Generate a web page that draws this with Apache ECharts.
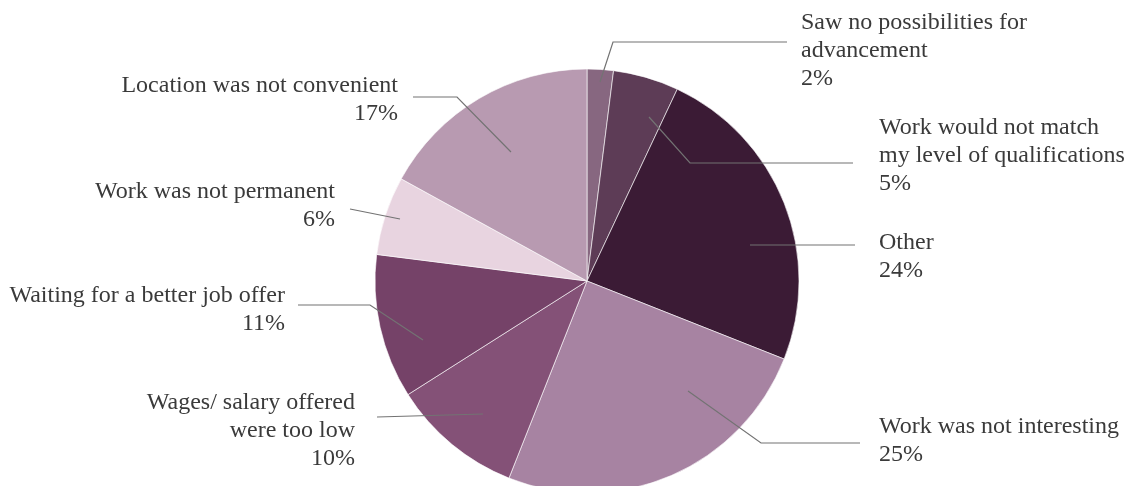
<!DOCTYPE html>
<html>
<head>
<meta charset="utf-8">
<script src="https://cdn.jsdelivr.net/npm/echarts@6/dist/echarts.min.js"></script>
<style>
html,body{margin:0;padding:0;background:#fff;}
#chart{width:1135px;height:486px;}
</style>
</head>
<body>
<div id="chart"></div>
<script>
// ---- data ----
const categories = [
  'Saw no possibilities for\nadvancement',
  'Work would not match\nmy level of qualifications',
  'Other',
  'Work was not interesting',
  'Wages/ salary offered\nwere too low',
  'Waiting for a better job offer',
  'Work was not permanent',
  'Location was not convenient'
];
const values = [2, 5, 24, 25, 10, 11, 6, 17];

// ---- style ----
const colors = ['#876780', '#5d3c56', '#3b1b35', '#a783a2', '#845177', '#754268', '#e8d4e0', '#b89ab1'];

// label placement (text block anchor + leader line), layout only
const labelSpots = [
  { x: 801, y: 9,   align: 'left',  line: [[600, 82], [613, 42], [787, 42]] },
  { x: 879, y: 114, align: 'left',  line: [[649, 117], [690, 163], [853, 163]] },
  { x: 879, y: 229, align: 'left',  line: [[750, 245], [800, 245], [855, 245]] },
  { x: 879, y: 413, align: 'left',  line: [[688, 391], [761, 443], [860, 443]] },
  { x: 355, y: 389, align: 'right', line: [[483, 414], [430, 415.5], [377, 417]] },
  { x: 285, y: 282, align: 'right', line: [[423, 340], [370, 305], [298, 305]] },
  { x: 335, y: 178, align: 'right', line: [[400, 219], [375, 214], [350, 209]] },
  { x: 398, y: 72,  align: 'right', line: [[511, 152], [457, 97], [413, 97]] }
];

const pieData = categories.map((c, i) => ({ name: c, value: values[i], itemStyle: { color: colors[i] } }));

const chart = echarts.init(document.getElementById('chart'), null, { renderer: 'canvas' });
chart.setOption({
  animation: false,
  backgroundColor: '#ffffff',
  series: [{
    // slices
    type: 'pie',
    z: 2,
    center: [587, 281],
    radius: 212,
    startAngle: 90,
    clockwise: true,
    data: pieData,
    itemStyle: { borderColor: '#ffffff', borderWidth: 0.6 },
    label: { show: false },
    labelLine: { show: false },
    emphasis: { disabled: true },
    silent: true
  }, {
    // labels and leader lines drawn above the slices
    type: 'pie',
    z: 5,
    center: [587, 281],
    radius: 212,
    startAngle: 90,
    clockwise: true,
    avoidLabelOverlap: false,
    data: categories.map((c, i) => ({ name: c, value: values[i] })),
    itemStyle: { color: 'rgba(0,0,0,0)', borderWidth: 0 },
    label: {
      show: true,
      position: 'outside',
      formatter: '{b}\n{d}%',
      fontFamily: 'Liberation Serif',
      fontSize: 24,
      lineHeight: 28,
      color: '#3a3a3a'
    },
    labelLine: {
      show: true,
      lineStyle: { color: '#737373', width: 1.2 }
    },
    labelLayout: function (params) {
      const s = labelSpots[params.dataIndex];
      return {
        x: s.x,
        y: s.y,
        align: s.align,
        verticalAlign: 'top',
        labelLinePoints: s.line
      };
    },
    emphasis: { disabled: true },
    silent: true
  }]
});
</script>
</body>
</html>
